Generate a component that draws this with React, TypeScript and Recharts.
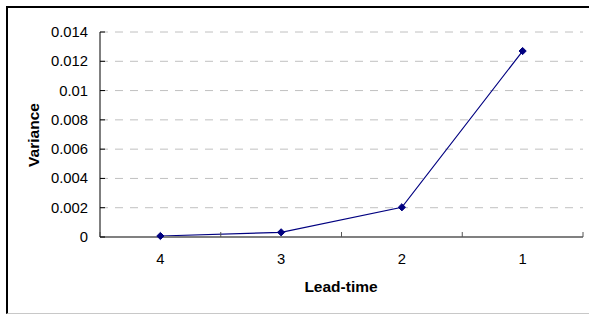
import { LineChart, Line, XAxis, YAxis, CartesianGrid } from "recharts";

// Variance by lead-time, old spreadsheet-style line chart.
const leadTimes = ["4", "3", "2", "1"];
const variance = [0.00007, 0.00032, 0.00203, 0.0127];
const yTicks = [0, 0.002, 0.004, 0.006, 0.008, 0.01, 0.012, 0.014];

const data = leadTimes.map((lt, i) => ({ lt, v: variance[i] }));

const FONT = "'Liberation Sans', Arial, sans-serif";
const NAVY = "#000080";

function YTick(props: any) {
  const { x, y, payload } = props;
  return (
    <g>
      <line x1={x + 12} x2={x + 17} y1={y} y2={y} stroke="#000" />
      <text x={x} y={y} dy={5} textAnchor="end" fontSize={14.8} fontFamily={FONT} fill="#000">
        {String(payload.value)}
      </text>
    </g>
  );
}

function XTick(props: any) {
  const { x, y, payload, index, visibleTicksCount } = props;
  const half = payload.offset ?? 60;
  return (
    <g>
      <line x1={x - half} x2={x - half} y1={y - 5} y2={y} stroke="#555" />
      {index === visibleTicksCount - 1 && (
        <line x1={x + half} x2={x + half} y1={y - 5} y2={y} stroke="#555" />
      )}
      <text x={x} y={y + 27} textAnchor="middle" fontSize={14.8} fontFamily={FONT} fill="#000">
        {payload.value}
      </text>
    </g>
  );
}

function Diamond(props: any) {
  const { cx, cy } = props;
  if (cx == null || cy == null) return null;
  const r = 3.6;
  return (
    <polygon
      points={`${cx},${cy - r} ${cx + r},${cy} ${cx},${cy + r} ${cx - r},${cy}`}
      fill={NAVY}
      stroke={NAVY}
    />
  );
}

export default function App() {
  return (
    <div style={{ position: "absolute", left: 0, top: 0, width: 589, height: 314, overflow: "hidden", background: "#fff" }}>
      <div
        style={{
          position: "absolute",
          left: 6,
          top: 6,
          width: 620,
          height: 305,
          borderLeft: "2px solid #000",
          borderTop: "2px solid #000",
          borderBottom: "1px solid #c8c8c8",
        }}
      />
      <LineChart
        width={589}
        height={314}
        data={data}
        margin={{ top: 32, right: 6, bottom: 47, left: 0 }}
        style={{ position: "absolute", left: 0, top: 0 }}
      >
        <CartesianGrid vertical={false} stroke="#c0c0c0" strokeDasharray="8 7" />
        <XAxis
          dataKey="lt"
          scale="band"
          height={30}
          tickSize={0}
          tickMargin={0}
          tickLine={false}
          axisLine={{ stroke: "#808080", strokeWidth: 2 }}
          tick={<XTick />}
          interval={0}
        />
        <YAxis
          width={100}
          domain={[0, 0.014]}
          ticks={yTicks}
          tickSize={0}
          tickMargin={12}
          tickLine={false}
          axisLine={{ stroke: "#000" }}
          tick={<YTick />}
          interval={0}
        />
        <Line
          dataKey="v"
          stroke={NAVY}
          strokeWidth={1.2}
          dot={<Diamond />}
          activeDot={false}
          isAnimationActive={false}
        />
      </LineChart>
      <svg width={589} height={314} style={{ position: "absolute", left: 0, top: 0, pointerEvents: "none" }}>
        <text
          x={341}
          y={292}
          textAnchor="middle"
          fontSize={15.5}
          fontWeight="bold"
          fontFamily={FONT}
        >
          Lead-time
        </text>
        <text
          x={39}
          y={135}
          textAnchor="middle"
          fontSize={15.5}
          fontWeight="bold"
          fontFamily={FONT}
          transform="rotate(-90 39 135)"
        >
          Variance
        </text>
      </svg>
    </div>
  );
}
